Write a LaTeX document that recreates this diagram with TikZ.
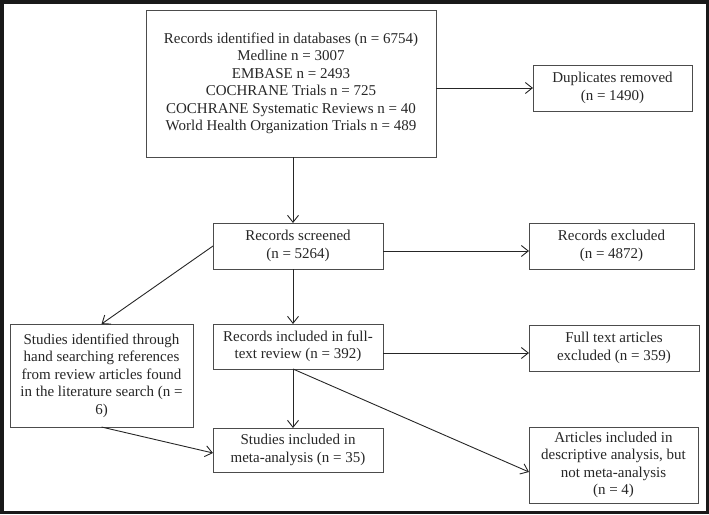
\documentclass[tikz,border=0pt]{standalone}
\usepackage{fontspec}
\setmainfont{Liberation Serif}
\usetikzlibrary{arrows.meta}
\begin{document}
\begin{tikzpicture}[x=1pt,y=-1pt,
  box/.style={draw=black!70, line width=0.9pt, rectangle, inner sep=0pt, outer sep=0pt, align=center,
    font=\fontsize{15}{17.5}\selectfont, text=black!85},
  arr/.style={draw=black!85, line width=0.9pt, -{Straight Barb[length=7pt,width=11pt,line width=0.9pt]}}]
\useasboundingbox (0,0) rectangle (709,514);
\draw[line width=3.5pt, draw=black!90] (1.75,1.75) rectangle (707.25,512.25);

\node[box, minimum width=290, minimum height=147] (top) at (291,83.5)
  {Records identified in databases (n = 6754)\\ Medline n = 3007\\ EMBASE n = 2493\\ COCHRANE Trials n = 725\\ COCHRANE Systematic Reviews n = 40\\ World Health Organization Trials n = 489};
\node[box, minimum width=159, minimum height=46] (dup) at (612.5,88) {Duplicates removed\\ (n = 1490)};
\node[box, minimum width=170, minimum height=46] (screened) at (298,246) {Records screened\\ (n = 5264)};
\node[box, minimum width=165, minimum height=46] (excluded) at (611.5,246) {Records excluded\\ (n = 4872)};
\node[box, minimum width=183, minimum height=103] (studies) at (101.5,375.5)
  {Studies identified through\\ hand searching references\\ from review articles found\\ in the literature search (n =\\ 6)};
\node[box, minimum width=170, minimum height=45] (fulltext) at (298,346.5) {Records included in full-\\ text review (n = 392)};
\node[box, minimum width=170, minimum height=46] (ftexcl) at (614,348) {Full text articles\\ excluded (n = 359)};
\node[box, minimum width=170, minimum height=44] (meta) at (298,450) {Studies included in\\ meta-analysis (n = 35)};
\node[box, minimum width=169, minimum height=76] (articles) at (613.5,465)
  {Articles included in\\ descriptive analysis, but\\ not meta-analysis\\ (n = 4)};

\coordinate (c1) at (293,0);
\draw[arr] (top.east |- dup.west) -- (dup.west);
\draw[arr] (top.south -| c1) -- (screened.north -| c1);
\draw[arr] ([yshift=-5pt]screened.east) -- ([yshift=-5pt]excluded.west);
\draw[arr] (screened.west) -- (studies.north);
\draw[arr] (screened.south -| c1) -- (fulltext.north -| c1);
\draw[arr] ([yshift=-6.5pt]fulltext.east) -- ([yshift=-5pt]ftexcl.west);
\draw[arr] (fulltext.south -| c1) -- (meta.north -| c1);
\draw[arr] (fulltext.south -| c1) -- ([yshift=-7pt]articles.west);
\draw[arr] (studies.south) -- ([yshift=-3pt]meta.west);
\end{tikzpicture}
\end{document}
